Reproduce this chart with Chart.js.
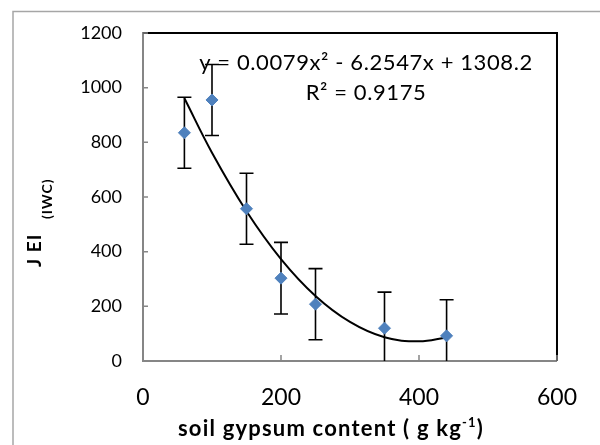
<!DOCTYPE html>
<html>
<head>
<meta charset="utf-8">
<script src="https://cdn.jsdelivr.net/npm/chart.js@4"></script>
<style>
  body { margin: 0; background: #fff; }
  #wrap { width: 600px; height: 445px; }
</style>
</head>
<body>
<div id="wrap"><canvas id="myChart" width="600" height="445"></canvas></div>
<script>
// measured points (soil gypsum content vs J EI)
var gypsum = [60, 100, 150, 200, 250, 350, 440];
var jei    = [835, 955, 557, 303, 208, 120, 92];
var errs   = [130, 130, 130, 131, 130, 132, 132];

// trend line
var trendX = [60, 100, 150, 200, 250, 300, 350, 400, 440];
var trendY = [961, 762, 548, 373, 238, 143, 87, 72, 86];

var xTicks = [0, 200, 400, 600];
var yTicks = [0, 200, 400, 600, 800, 1000, 1200];

var eqLine1 = "y = 0.0079x\u00B2 - 6.2547x + 1308.2";
var eqLine2 = "R\u00B2 = 0.9175";

var pts = [];
for (var i = 0; i < gypsum.length; i++) pts.push({x: gypsum[i], y: jei[i]});
var trend = [];
for (var j = 0; j < trendX.length; j++) trend.push({x: trendX[j], y: trendY[j]});

var FONT = "Lato";

var extras = {
  id: "extras",
  beforeDraw: function(chart) {
    var c = chart.ctx;
    c.save();
    c.fillStyle = "#fff";
    c.fillRect(0, 0, chart.width, chart.height);
    // outer frame
    c.strokeStyle = "#a6a6a6";
    c.lineWidth = 1.5;
    c.beginPath();
    c.moveTo(13, 460); c.lineTo(13, 11.5); c.lineTo(620, 11.5);
    c.stroke();
    c.restore();
  },
  beforeDatasetsDraw: function(chart) {
    var c = chart.ctx, xs = chart.scales.x, ys = chart.scales.y, a = chart.chartArea;
    c.save();
    c.beginPath();
    c.rect(a.left, a.top - 10, a.right - a.left, a.bottom - a.top + 10);
    c.clip();
    c.strokeStyle = "#000";
    c.lineWidth = 1.6;
    for (var i = 0; i < gypsum.length; i++) {
      var px = xs.getPixelForValue(gypsum[i]);
      var top = ys.getPixelForValue(jei[i] + errs[i]);
      var bot = ys.getPixelForValue(jei[i] - errs[i]);
      c.beginPath();
      c.moveTo(px, top); c.lineTo(px, bot);
      c.moveTo(px - 7, top); c.lineTo(px + 7, top);
      c.moveTo(px - 7, bot); c.lineTo(px + 7, bot);
      c.stroke();
    }
    c.restore();
  },
  afterDraw: function(chart) {
    var c = chart.ctx, xs = chart.scales.x, ys = chart.scales.y, a = chart.chartArea;
    c.save();
    // top and right frame of plot area
    c.strokeStyle = "#000";
    c.lineWidth = 2;
    c.beginPath();
    c.moveTo(a.left, a.top); c.lineTo(a.right, a.top); c.lineTo(a.right, a.bottom);
    c.stroke();
    // inside tick marks
    c.strokeStyle = "#868686";
    c.lineWidth = 1.5;
    c.beginPath();
    yTicks.forEach(function(v) {
      var py = ys.getPixelForValue(v);
      c.moveTo(a.left, py); c.lineTo(a.left + 5, py);
    });
    xTicks.forEach(function(v) {
      var px = xs.getPixelForValue(v);
      c.moveTo(px, a.bottom); c.lineTo(px, a.bottom - 6);
    });
    c.stroke();

    // equation
    c.fillStyle = "#000";
    c.textAlign = "center";
    c.textBaseline = "middle";
    c.letterSpacing = "0.6px";
    c.font = "22px " + FONT;
    c.fillText(eqLine1, 366, 63);
    c.fillText(eqLine2, 366, 93);

    // x axis title with superscript
    c.letterSpacing = "1.2px";
    var t1 = "soil gypsum content ( g kg", t2 = "-1", t3 = ")";
    var fb = "bold 22px " + FONT, fs = "bold 13px " + FONT;
    c.font = fb; var w1 = c.measureText(t1).width, w3 = c.measureText(t3).width;
    c.font = fs; var w2 = c.measureText(t2).width;
    var x0 = 331 - (w1 + w2 + w3) / 2, by = 436;
    c.textAlign = "left";
    c.textBaseline = "alphabetic";
    c.font = fb; c.fillText(t1, x0, by);
    c.font = fs; c.fillText(t2, x0 + w1, by - 9);
    c.font = fb; c.fillText(t3, x0 + w1 + w2, by);

    // y axis title with subscript
    c.letterSpacing = "1px";
    c.translate(41, 0);
    c.rotate(-Math.PI / 2);
    c.font = "bold 19px " + FONT;
    c.fillText("J EI", -267, 0);
    c.font = "bold 14px " + FONT;
    c.fillText("(IWC)", -219, 11);
    c.restore();
  }
};

new Chart("myChart", {
  type: "scatter",
  data: {
    datasets: [
      {
        label: "J EI",
        data: pts,
        backgroundColor: "#4F81BD",
        borderColor: "#4F81BD",
        pointStyle: "rectRot",
        pointRadius: 6,
        pointHoverRadius: 6,
        order: 1
      },
      {
        label: "trend",
        data: trend,
        showLine: true,
        borderColor: "#000",
        borderWidth: 2,
        pointRadius: 0,
        tension: 0.4,
        fill: false,
        order: 2
      }
    ]
  },
  options: {
    responsive: false,
    animation: false,
    events: [],
    layout: { padding: { left: 0, top: 33, right: 38, bottom: 0 } },
    plugins: { legend: { display: false }, tooltip: { enabled: false } },
    scales: {
      x: {
        type: "linear",
        min: 0, max: 600,
        afterBuildTicks: function(s) { s.ticks = xTicks.map(function(v) { return {value: v}; }); },
        afterFit: function(s) { s.height = 84; },
        grid: { display: false, drawTicks: false },
        border: { display: true, color: "#868686", width: 2 },
        ticks: { padding: 23, color: "#000", font: { family: FONT, size: 23 },
                 callback: function(v) { return String(v); } }
      },
      y: {
        type: "linear",
        min: 0, max: 1200,
        afterBuildTicks: function(s) { s.ticks = yTicks.map(function(v) { return {value: v}; }); },
        afterFit: function(s) { s.width = 143; },
        grid: { display: false, drawTicks: false },
        border: { display: true, color: "#868686", width: 2 },
        ticks: { padding: 21, color: "#000", font: { family: FONT, size: 18 },
                 callback: function(v) { return String(v); } }
      }
    }
  },
  plugins: [extras]
});
</script>
</body>
</html>
